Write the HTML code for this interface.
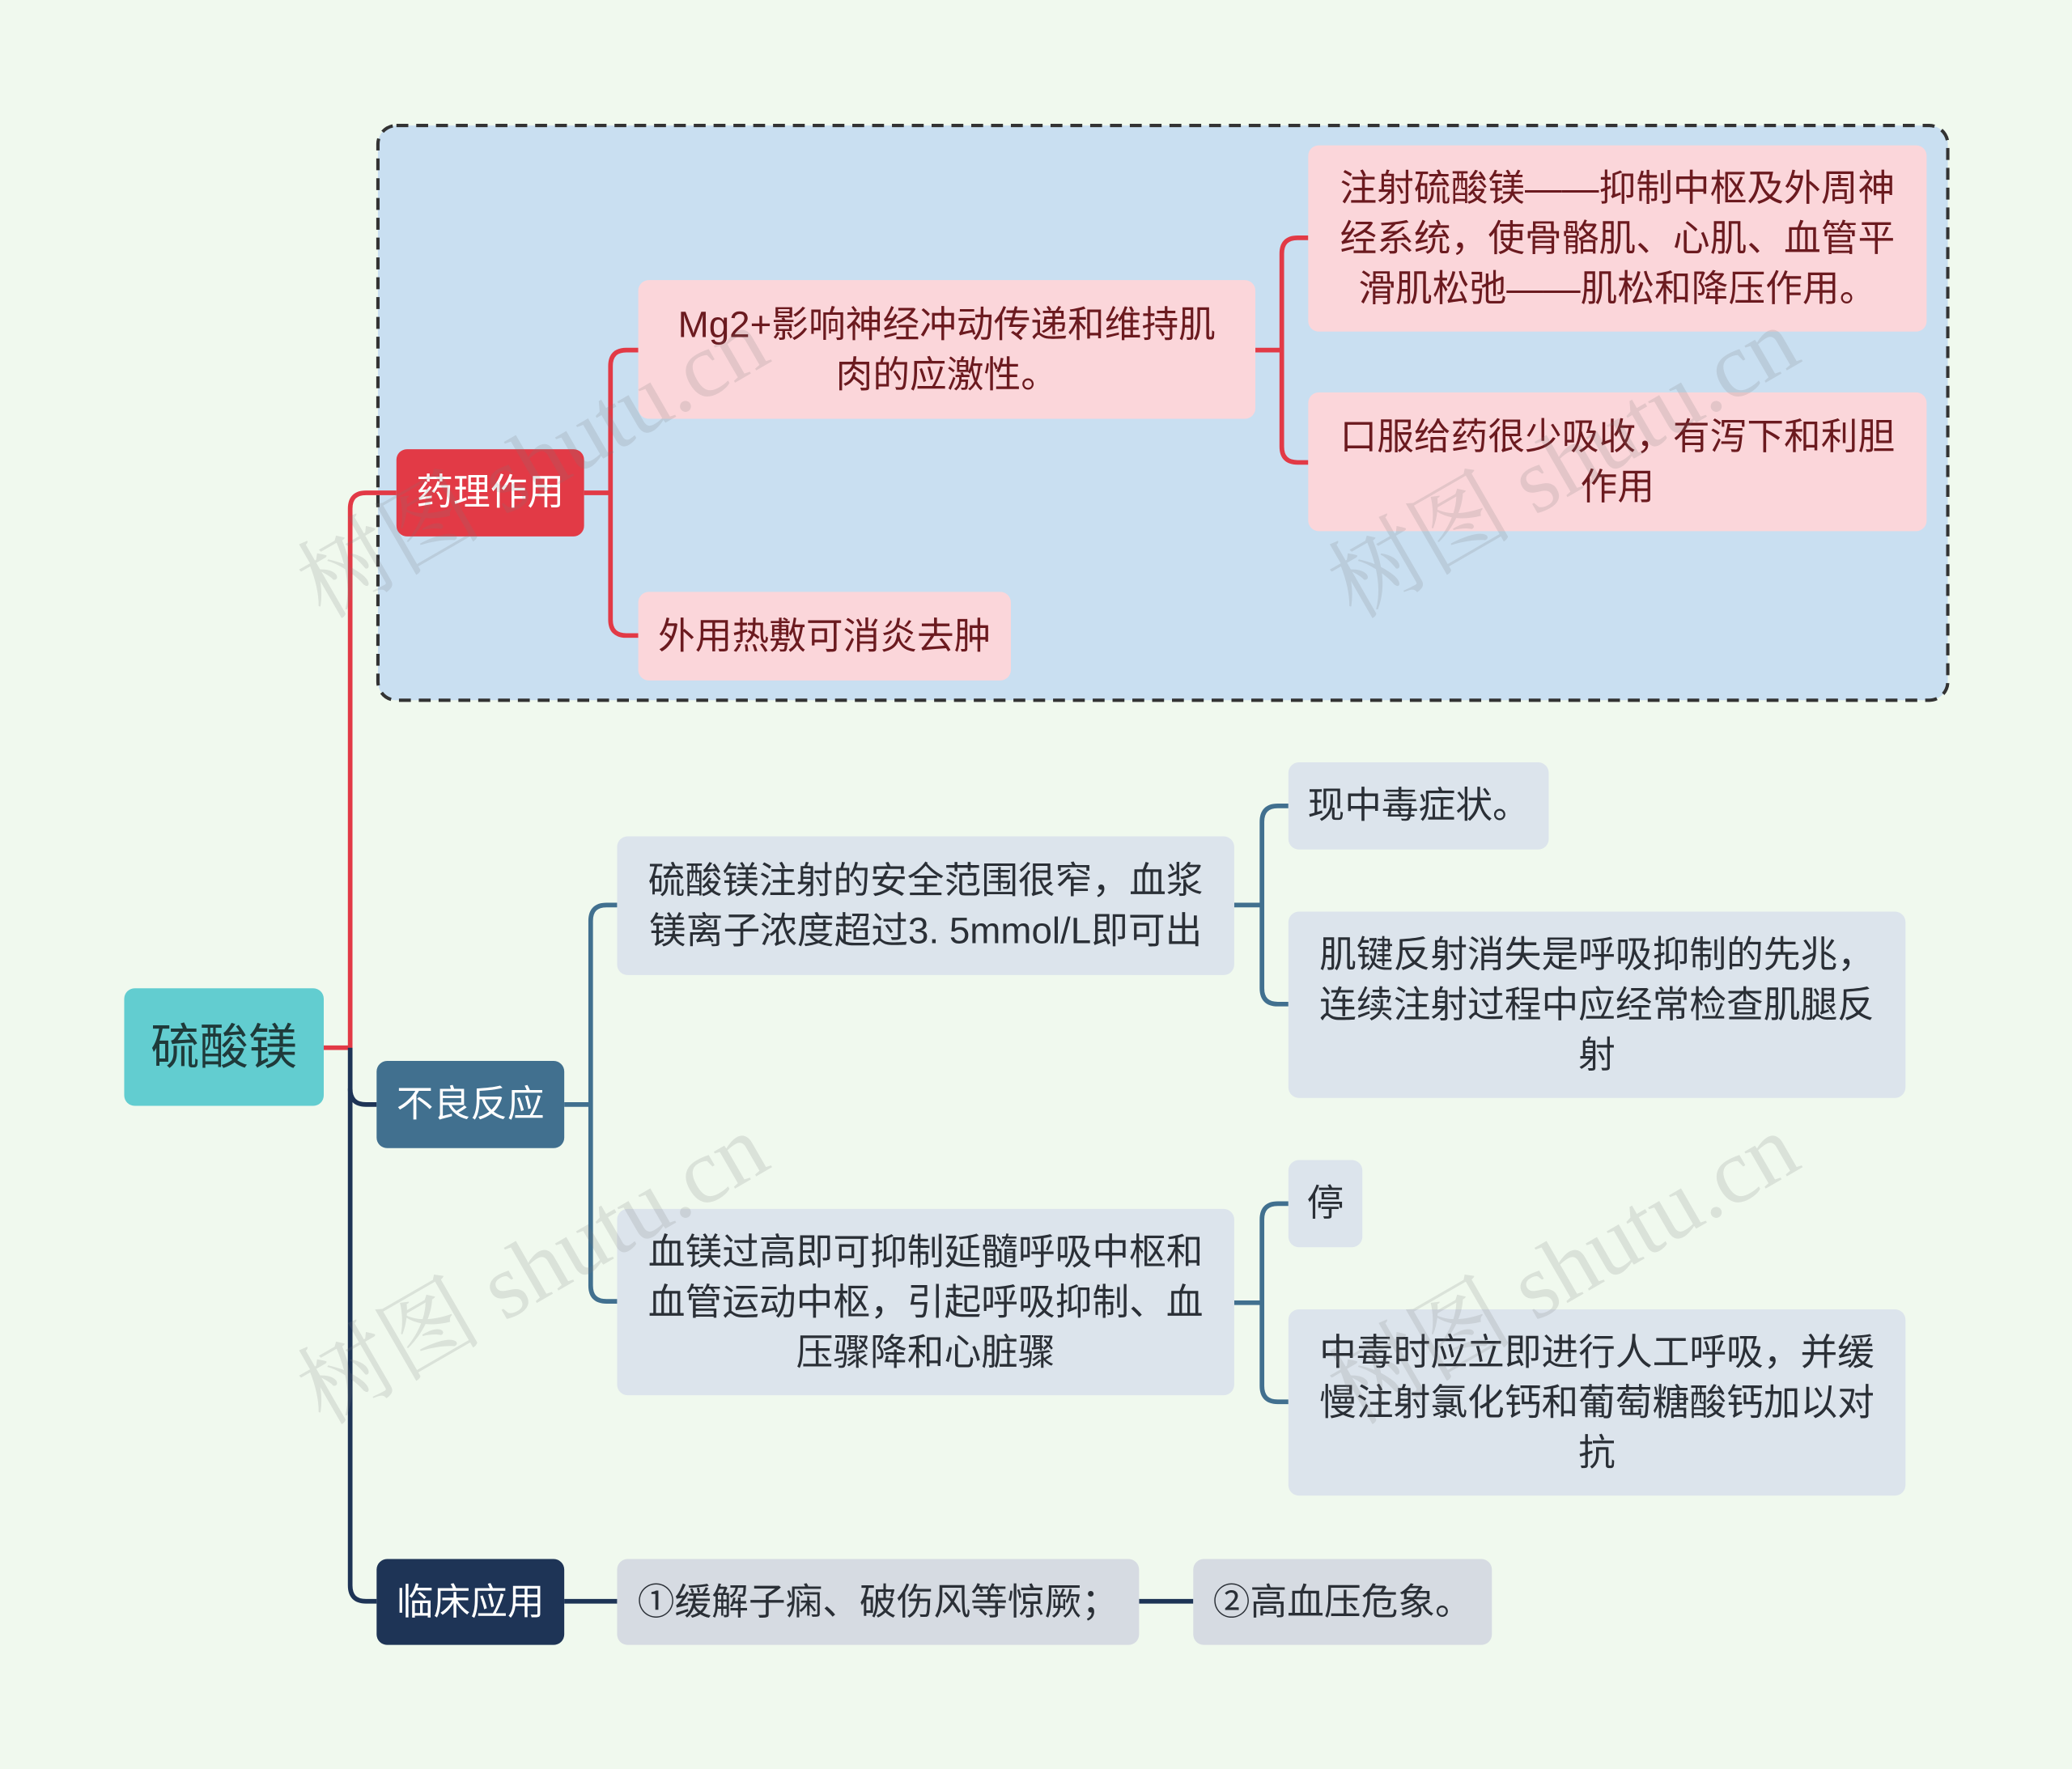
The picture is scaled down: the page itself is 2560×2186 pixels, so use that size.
<!DOCTYPE html>
<html><head><meta charset="utf-8">
<style>
html,body{margin:0;padding:0;background:#f0f9ee;}
#wrap{width:2560px;height:2186px;overflow:hidden;position:relative;background:#f0f9ee;}
#c{position:absolute;left:0;top:0;width:1568px;height:1339px;transform:scale(1.632653);transform-origin:0 0;font-family:"Liberation Sans","Noto Sans CJK SC",sans-serif;}
.b{position:absolute;box-sizing:border-box;display:flex;align-items:center;justify-content:center;text-align:center;border-radius:8px;font-size:28px;line-height:38px;padding:0 16px;}
.pk{background:#fbd6da;color:#6b1a1f;}
.gy{background:#dce4ec;color:#2a2f36;}
.g2{background:#d6dbe2;color:#2a2f36;}
.wm{position:absolute;font-family:"Liberation Serif","Noto Serif CJK SC",serif;font-size:70px;color:rgba(120,120,120,0.18);transform:rotate(-30deg);transform-origin:0 0;white-space:nowrap;}
</style></head><body><div id="wrap"><div id="c">
<svg width="1568" height="1339" style="position:absolute;left:0;top:0">
<rect x="286" y="95" width="1188" height="435" rx="14" fill="#c9dff1" stroke="#333" stroke-width="2.5" stroke-dasharray="9,6"/>
<g fill="none" stroke-width="3.5">
<path d="M245 793 H265 V385 Q265 373 277 373 H300" stroke="#e23a46"/>
<path d="M265 793 V1200 Q265 1212 277 1212 H285" stroke="#1e3456"/>
<path d="M265 824 Q265 836 277 836 H285" stroke="#1e3456"/>
<path d="M442 373 H462" stroke="#e23a46"/>
<path d="M483 265 H474 Q462 265 462 277 V469 Q462 481 474 481 H483" stroke="#e23a46"/>
<path d="M950 265 H970" stroke="#e23a46"/>
<path d="M990 180 H982 Q970 180 970 192 V338 Q970 350 982 350 H990" stroke="#e23a46"/>
<path d="M427 836 H447" stroke="#41708f"/>
<path d="M467 685 H459 Q447 685 447 697 V973 Q447 985 459 985 H467" stroke="#41708f"/>
<path d="M934 685 H955" stroke="#41708f"/>
<path d="M975 610 H967 Q955 610 955 622 V748 Q955 760 967 760 H975" stroke="#41708f"/>
<path d="M934 986 H955" stroke="#41708f"/>
<path d="M975 911 H967 Q955 911 955 923 V1049 Q955 1061 967 1061 H975" stroke="#41708f"/>
<path d="M427 1212 H467 M862 1212 H903" stroke="#1e3456"/>
</g></svg>
<div class="b" style="left:94px;top:748px;width:151px;height:89px;background:#62cdd0;color:#1f3a3a;font-size:37px;padding:0;">硫酸镁</div>
<div class="b" style="left:300px;top:340px;width:142px;height:66px;background:#e23a46;color:#fff;padding:0;">药理作用</div>
<div class="b pk" style="left:483px;top:212px;width:467px;height:105px;"><span>Mg2+影响神经冲动传递和维持肌<br>肉的应激性。</span></div>
<div class="b pk" style="left:483px;top:448px;width:282px;height:67px;padding:0;">外用热敷可消炎去肿</div>
<div class="b pk" style="left:990px;top:110px;width:468px;height:141px;">注射硫酸镁——抑制中枢及外周神经系统，使骨骼肌、心肌、血管平滑肌松弛——肌松和降压作用。</div>
<div class="b pk" style="left:990px;top:297px;width:468px;height:105px;">口服给药很少吸收，有泻下和利胆作用</div>
<div class="b" style="left:285px;top:803px;width:142px;height:66px;background:#41708f;color:#fff;padding:0;">不良反应</div>
<div class="b gy" style="left:467px;top:633px;width:467px;height:105px;padding:0 12px;">硫酸镁注射的安全范围很窄，血浆镁离子浓度超过3. 5mmol/L即可出</div>
<div class="b gy" style="left:975px;top:577px;width:197px;height:66px;padding:0;">现中毒症状。</div>
<div class="b gy" style="left:975px;top:690px;width:467px;height:141px;">肌键反射消失是呼吸抑制的先兆，连续注射过程中应经常检查肌腿反射</div>
<div class="b gy" style="left:467px;top:915px;width:467px;height:141px;">血镁过高即可抑制延髓呼吸中枢和血管运动中枢，引起呼吸抑制、血压骤降和心脏骤</div>
<div class="b gy" style="left:975px;top:878px;width:56px;height:66px;padding:0;">停</div>
<div class="b gy" style="left:975px;top:991px;width:467px;height:141px;">中毒时应立即进行人工呼吸，并缓慢注射氯化钙和葡萄糖酸钙加以对抗</div>
<div class="b" style="left:285px;top:1180px;width:142px;height:65px;background:#1e3456;color:#fff;padding:0;">临床应用</div>
<div class="b g2" style="left:467px;top:1180px;width:395px;height:65px;padding:0;">①缓解子痫、破伤风等惊厥；</div>
<div class="b g2" style="left:903px;top:1180px;width:226px;height:65px;padding:0;">②高血压危象。</div>
<div class="wm" style="left:205px;top:400px;">树图 shutu.cn</div>
<div class="wm" style="left:985px;top:400px;">树图 shutu.cn</div>
<div class="wm" style="left:205px;top:1010px;">树图 shutu.cn</div>
<div class="wm" style="left:985px;top:1010px;">树图 shutu.cn</div>
</div></div></body></html>
